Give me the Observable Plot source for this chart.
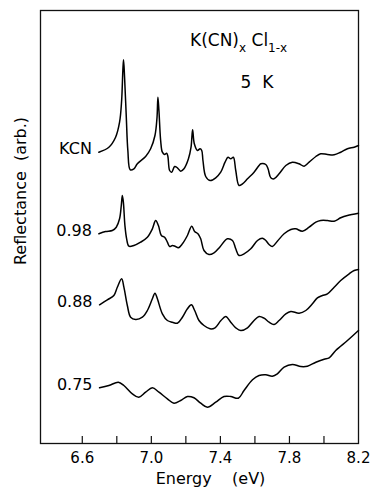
<!DOCTYPE html>
<html><head><meta charset="utf-8">
<script src="https://cdn.jsdelivr.net/npm/d3@7"></script>
<script src="https://cdn.jsdelivr.net/npm/@observablehq/plot@0.6"></script>
<style>body{margin:0;background:#fff} svg{display:block;background:#fff}</style>
</head><body><div id="chart"></div>
<script>
// Series labels (x in K(CN)x Cl1-x)
const seriesLabels = ["KCN", "0.98", "0.88", "0.75"];

// KCN (x = 1)
const kcnEnergy = [6.696,6.754,6.793,6.816,6.828,6.835,6.839,6.845,6.855,6.864,6.878,6.899,6.919,6.967,6.996,7.021,7.033,7.038,7.044,7.054,7.064,7.077,7.089,7.096,7.106,7.118,7.135,7.151,7.170,7.189,7.215,7.230,7.239,7.249,7.267,7.282,7.292,7.299,7.315,7.340,7.373,7.402,7.427,7.444,7.460,7.475,7.489,7.508,7.528,7.557,7.595,7.624,7.634,7.663,7.676,7.692,7.711,7.740,7.779,7.817,7.856,7.885,7.914,7.953,7.981,8.020,8.059,8.097,8.136,8.175,8.200];
const kcnRefl = [29.13,29.63,30.63,32.13,34.3,37.3,38.37,36.63,32.63,29.3,27.37,27.47,27.97,28.7,29.47,30.8,32.63,34.63,33.3,30.3,29.13,28.9,29.03,28.7,27.3,27.13,27.7,27.57,27.23,27.47,28.47,29.63,31.37,29.97,29.3,29.47,29.3,28.3,26.7,26.3,26.57,27.13,28.13,28.63,28.47,28.63,27.3,25.8,25.97,26.47,27.13,27.8,27.97,27.9,27.47,26.57,26.47,26.97,27.8,28.13,27.97,27.73,28.13,28.7,28.97,28.9,28.87,29.13,29.47,29.63,29.8];

// x = 0.98
const x098Energy = [6.696,6.735,6.774,6.797,6.816,6.826,6.832,6.838,6.847,6.857,6.870,6.899,6.938,6.977,7.006,7.025,7.041,7.058,7.077,7.093,7.106,7.122,7.137,7.157,7.180,7.209,7.234,7.251,7.270,7.286,7.305,7.334,7.363,7.396,7.427,7.441,7.470,7.489,7.508,7.537,7.576,7.615,7.643,7.663,7.682,7.701,7.730,7.769,7.808,7.836,7.875,7.914,7.953,7.981,8.020,8.059,8.097,8.136,8.200];
const x098Refl = [20.97,21.2,21.3,21.63,22.47,23.8,24.8,24.13,21.8,20.47,19.73,19.8,20.13,20.63,21.47,22.3,21.8,20.8,20.63,20.13,19.7,19.8,19.73,19.57,19.97,20.8,21.73,21.2,20.97,20.47,19.3,18.9,19.07,19.63,20.3,20.47,20.3,19.47,18.8,18.97,19.47,20.3,20.53,20.3,19.9,19.7,20.23,20.97,21.4,21.47,21.23,21.63,22.13,22.3,22.3,22.23,22.57,22.8,23.03];

// x = 0.88
const x088Energy = [6.700,6.745,6.783,6.803,6.828,6.841,6.861,6.880,6.909,6.948,6.977,7.006,7.021,7.035,7.064,7.093,7.122,7.151,7.180,7.209,7.232,7.251,7.276,7.305,7.340,7.369,7.402,7.431,7.460,7.489,7.518,7.557,7.595,7.624,7.653,7.682,7.711,7.740,7.779,7.808,7.856,7.895,7.933,7.962,7.991,8.020,8.059,8.097,8.146,8.175,8.200];
const x088Refl = [13.87,14.37,14.8,15.63,16.47,15.63,13.8,12.63,12.4,12.63,13.3,14.47,15.03,14.47,12.97,12.3,12.13,12.03,12.63,13.47,13.87,13.3,12.3,11.8,11.47,11.57,12.27,12.7,12.13,11.57,11.3,11.57,12.3,12.7,12.53,12.13,11.9,12.3,12.97,13.2,13.03,13.3,13.97,14.57,14.8,14.97,15.63,16.3,16.97,17.3,17.4];

// x = 0.75
const x075Energy = [6.700,6.754,6.809,6.841,6.890,6.928,6.967,7.006,7.044,7.093,7.131,7.170,7.209,7.247,7.286,7.325,7.373,7.421,7.460,7.504,7.537,7.586,7.624,7.663,7.701,7.730,7.769,7.817,7.866,7.904,7.953,8.001,8.030,8.068,8.136,8.200];
const x075Refl = [5.57,5.8,6.13,5.8,4.97,4.63,5.13,5.57,5.13,4.47,4.03,4.3,4.7,4.57,4.03,3.63,4.13,4.7,4.7,4.53,5.3,6.37,6.8,6.87,6.73,6.97,7.63,7.9,7.7,7.73,8.13,8.43,8.57,9.3,10.3,11.3];

const tickPositions = [6.6, 6.8, 7.0, 7.2, 7.4, 7.6, 7.8, 8.0];
const tickLabels = [6.6, 7.0, 7.4, 7.8, 8.2];

const energies = [kcnEnergy, x098Energy, x088Energy, x075Energy];
const refls = [kcnRefl, x098Refl, x088Refl, x075Refl];
const rows = [];
seriesLabels.forEach((s, i) => energies[i].forEach((e, j) => rows.push({series: s, energy: e, refl: refls[i][j]})));
const firsts = seriesLabels.map((s, i) => ({series: s, energy: energies[i][0], refl: refls[i][0]}));

const font = "DejaVu Sans";
const plot = Plot.plot({
  width: 374, height: 487,
  marginLeft: 40, marginRight: 16, marginTop: 10, marginBottom: 44,
  style: {fontFamily: font, fontSize: "15px", color: "#000", background: "#fff"},
  x: {domain: [6.358, 8.2]},
  y: {domain: [0, 43.3], axis: null},
  marks: [
    Plot.frame({stroke: "#111", strokeWidth: 1.3}),
    Plot.ruleX(tickPositions, {y1: 0, y2: 0.7, stroke: "#111", strokeWidth: 1.2}),
    Plot.axisX(tickLabels, {tickSize: 0, tickPadding: 9, tickFormat: d3.format(".1f"), fontSize: 15, label: null}),
    Plot.line(rows, {x: "energy", y: "refl", z: "series", stroke: "#000", strokeWidth: 1.5, curve: "catmull-rom"}),
    Plot.text(firsts, {x: "energy", y: "refl", text: "series", textAnchor: "end", dx: -7, dy: -3, fontSize: 16}),
    Plot.text(["Reflectance  (arb.)"], {frameAnchor: "left", textAnchor: "middle", dx: -20, dy: -36, rotate: -90, fontSize: 16}),
    Plot.text(["Energy    (eV)"], {frameAnchor: "bottom", textAnchor: "middle", dx: 11, dy: 40, fontSize: 16})
  ]
});
document.getElementById("chart").appendChild(plot);

const svg = d3.select(plot);
const t = svg.append("text").attr("x", 190).attr("y", 46).attr("text-anchor", "start").attr("font-family", font).attr("font-size", 17).attr("fill", "#000");
t.append("tspan").text("K(CN)");
t.append("tspan").attr("font-size", 12).attr("dy", 6).text("x");
t.append("tspan").attr("dy", -6).text(" Cl");
t.append("tspan").attr("font-size", 12).attr("dy", 6).text("1-x");
svg.append("text").attr("x", 257).attr("y", 88).attr("text-anchor", "middle").attr("font-family", font).attr("font-size", 17).attr("fill", "#000").text("5  K");
</script>
</body></html>
